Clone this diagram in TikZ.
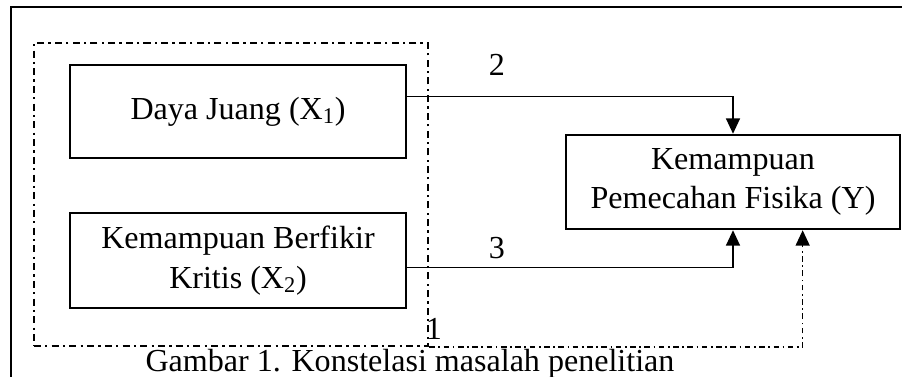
\documentclass[tikz,border=0pt]{standalone}
\usepackage{fontspec}
\setmainfont{Liberation Serif}
\usepackage{tikz}
\usetikzlibrary{calc, arrows.meta, positioning}

\begin{document}
\begin{tikzpicture}[x=0.025cm, y=-0.025cm,
    font=\fontsize{22.8}{28}\selectfont,
    kotak/.style={draw, line width=1.8pt, inner sep=0pt, align=center},
    garis/.style={line width=1.1pt, -{Triangle[length=11pt,width=10pt]}},
    titik/.style={dash pattern=on 5pt off 3pt on 1.6pt off 3pt},
    angka/.style={inner sep=0pt}]
  \useasboundingbox (0,0) rectangle (902,376);
  \draw[line width=1.8pt] (11,7) rectangle (930,400);

  \node[kotak, minimum width=336*0.025cm, minimum height=93*0.025cm] (dj) at (238,111.5) {Daya Juang (X\textsubscript{1})};
  \node[kotak, minimum width=336*0.025cm, minimum height=95*0.025cm] (bk) at (238,260.5) {Kemampuan Berfikir\\Kritis (X\textsubscript{2})};
  \node[kotak, minimum width=334*0.025cm, minimum height=94*0.025cm] (kp) at (733,182) {Kemampuan\\Pemecahan Fisika (Y)};
  \node[draw, line width=1.8pt, titik, minimum width=394*0.025cm, minimum height=303*0.025cm] (grup) at (231,194.5) {};

  \draw[garis] ($(dj.north east)!0.344!(dj.south east)$) -| (kp.north);
  \draw[garis] ($(bk.north east)!0.57!(bk.south east)$) -| (kp.south);
  \draw[garis, dash pattern=on 4pt off 2.5pt on 1.2pt off 2.5pt] (grup.south east) -| ($(kp.south west)!0.707!(kp.south east)$);

  \node[angka] (n2) at (497,65) {2};
  \node[angka] (n3) at (497,248) {3};
  \node[angka] (n1) at (434,329) {1};
  \node[angka, anchor=base] (judul) at (410,371) {Gambar 1. Konstelasi masalah penelitian};
\end{tikzpicture}
\end{document}
